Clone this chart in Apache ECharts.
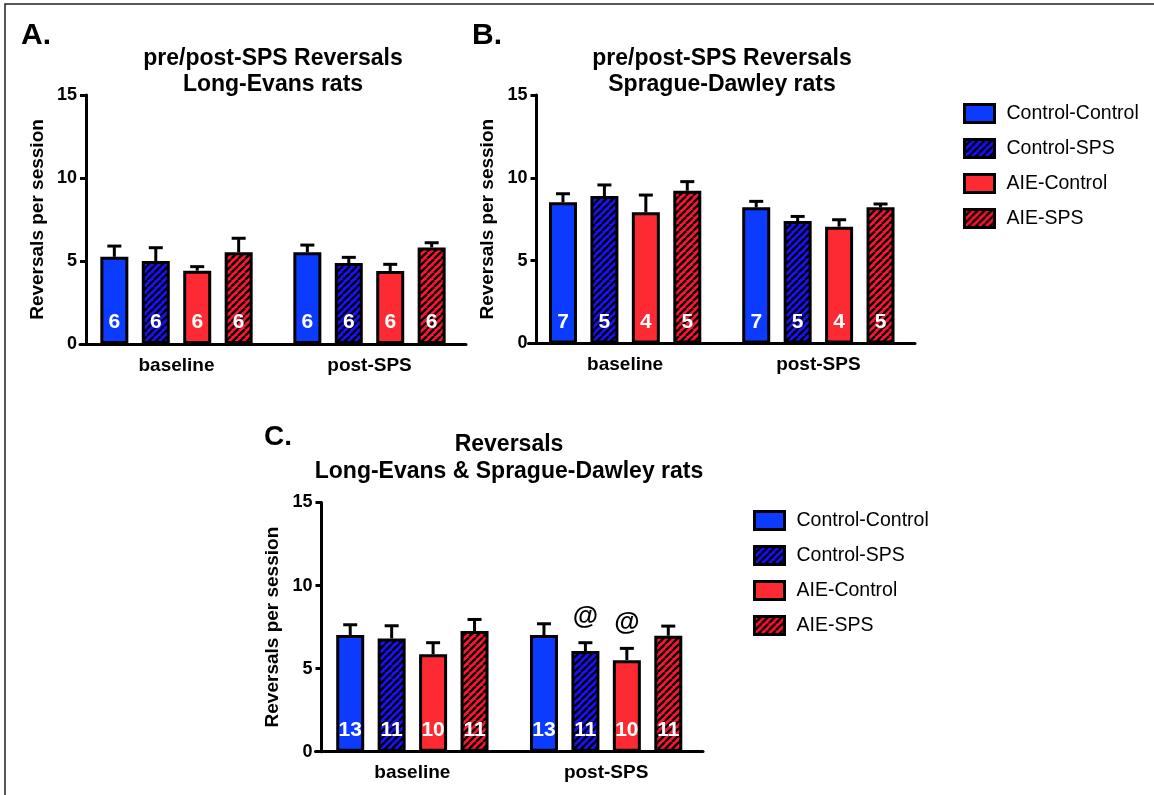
<!DOCTYPE html>
<html>
<head>
<meta charset="utf-8">
<title>Reversals per session</title>
<script src="https://cdn.jsdelivr.net/npm/echarts@6/dist/echarts.min.js"></script>
<style>
  html, body { margin: 0; padding: 0; background: #fff; }
  #chart { width: 1154px; height: 795px; }
</style>
</head>
<body>
<div id="chart"></div>
<script>
// ---- data ----
const CATEGORIES = ['baseline', 'post-SPS'];
const GROUPS = ['Control-Control', 'Control-SPS', 'AIE-Control', 'AIE-SPS'];
const Y_TICKS = [0, 5, 10, 15];

// A: Long-Evans rats — mean and SEM per group, [baseline, post-SPS]
const A_MEAN = [[5.25, 5.52], [5.0, 4.88], [4.42, 4.4], [5.52, 5.82]];
const A_SEM  = [[0.65, 0.44], [0.8, 0.34], [0.24, 0.4], [0.85, 0.28]];
const A_N    = [6, 6, 6, 6];

// B: Sprague-Dawley rats
const B_MEAN = [[8.52, 8.22], [8.9, 7.39], [7.92, 7.05], [9.22, 8.22]];
const B_SEM  = [[0.52, 0.36], [0.67, 0.28], [1.04, 0.42], [0.55, 0.2]];
const B_N    = [7, 5, 4, 5];

// C: both strains combined
const C_MEAN = [[7.02, 7.02], [6.82, 6.06], [5.86, 5.51], [7.26, 6.98]];
const C_SEM  = [[0.62, 0.68], [0.76, 0.5], [0.7, 0.71], [0.7, 0.58]];
const C_N    = [13, 11, 10, 11];
const C_MARK = [['', ''], ['', '@'], ['', '@'], ['', '']];

// ---- styling ----
const FONT = '"Liberation Sans", Arial, Helvetica, sans-serif';
const BAR_W = 28;          // px
const BAR_GAP = 0.48;      // fraction of bar width
const BAR_STEP = BAR_W * (1 + BAR_GAP);

function hatch(color) {
  const s = 7;
  const c = document.createElement('canvas');
  c.width = s; c.height = s;
  const ctx = c.getContext('2d');
  ctx.fillStyle = color;
  ctx.fillRect(0, 0, s, s);
  ctx.strokeStyle = '#000';
  ctx.lineWidth = 2.3;
  for (const o of [-s, 0, s]) {
    ctx.beginPath();
    ctx.moveTo(o, s);
    ctx.lineTo(o + s, 0);
    ctx.stroke();
  }
  return { image: c, repeat: 'repeat' };
}

const FILLS = ['#0b3bff', hatch('#1a12ff'), '#fe2a33', hatch('#ff1531')];

const PANELS = [
  { mean: A_MEAN, sem: A_SEM, n: A_N, mark: null,
    grid: { left: 80, top: 95, width: 386, height: 249 }, yOffset: -6 },
  { mean: B_MEAN, sem: B_SEM, n: B_N, mark: null,
    grid: { left: 528.5, top: 95, width: 386.5, height: 248.5 }, yOffset: -8 },
  { mean: C_MEAN, sem: C_SEM, n: C_N, mark: C_MARK,
    grid: { left: 315.5, top: 502.5, width: 387.5, height: 249.2 }, yOffset: -6 }
];

const grids = [], xAxes = [], yAxes = [], series = [];

PANELS.forEach((p, pi) => {
  grids.push(p.grid);
  xAxes.push({
    type: 'category', gridIndex: pi, data: CATEGORIES,
    axisLine: { lineStyle: { color: '#000', width: 3 } },
    axisTick: { alignWithLabel: true, length: 8, lineStyle: { color: '#000', width: 3 } },
    axisLabel: { color: '#000', fontFamily: FONT, fontSize: 19, fontWeight: 'bold', margin: 12 }
  });
  yAxes.push({
    type: 'value', gridIndex: pi, min: Y_TICKS[0], max: Y_TICKS[Y_TICKS.length - 1],
    interval: Y_TICKS[1] - Y_TICKS[0], offset: p.yOffset,
    splitLine: { show: false },
    axisLine: { show: true, lineStyle: { color: '#000', width: 3 } },
    axisTick: { show: true, length: 6, lineStyle: { color: '#000', width: 3 } },
    axisLabel: { color: '#000', fontFamily: FONT, fontSize: 18, fontWeight: 'bold', margin: 9 },
    name: 'Reversals per session', nameLocation: 'middle', nameGap: 39,
    nameTextStyle: { color: '#000', fontFamily: FONT, fontSize: 19, fontWeight: 'bold' }
  });

  GROUPS.forEach((g, gi) => {
    series.push({
      type: 'bar', name: g, xAxisIndex: pi, yAxisIndex: pi,
      data: p.mean[gi], barWidth: BAR_W, barGap: (BAR_GAP * 100) + '%',
      itemStyle: { color: FILLS[gi], borderColor: '#000', borderWidth: 3 },
      label: {
        show: true, position: 'insideBottom', distance: 11,
        formatter: String(p.n[gi]),
        color: '#fff', fontFamily: FONT, fontSize: 21, fontWeight: 'bold'
      },
      emphasis: { disabled: true },
      z: 2
    });
  });

  // error bars (mean + SEM) and significance marks
  const rows = [], marks = [];
  GROUPS.forEach((g, gi) => {
    CATEGORIES.forEach((c, ci) => {
      rows.push([ci, p.mean[gi][ci], p.sem[gi][ci], gi]);
      marks.push(p.mark ? p.mark[gi][ci] : '');
    });
  });
  series.push({
    type: 'custom', xAxisIndex: pi, yAxisIndex: pi, z: 3, silent: true,
    data: rows,
    encode: { x: 0, y: 1 },
    renderItem(params, api) {
      const ci = api.value(0), m = api.value(1), e = api.value(2), gi = api.value(3);
      const base = api.coord([ci, m]);
      const top = api.coord([ci, m + e]);
      const x = base[0] + (gi - 1.5) * BAR_STEP;
      const children = [
        { type: 'line', shape: { x1: x, y1: base[1], x2: x, y2: top[1] },
          style: { stroke: '#000', lineWidth: 3 } },
        { type: 'line', shape: { x1: x - 7, y1: top[1], x2: x + 7, y2: top[1] },
          style: { stroke: '#000', lineWidth: 3 } }
      ];
      const mk = marks[params.dataIndex];
      if (mk) {
        children.push({
          type: 'text',
          style: { text: mk, x: x, y: top[1] - 26, align: 'center', verticalAlign: 'middle',
                   fontFamily: FONT, fontSize: 26, fontWeight: 'bold', fill: '#000' }
        });
      }
      return { type: 'group', children };
    }
  });
});

function legendAt(left, top) {
  return {
    orient: 'vertical', left, top, data: GROUPS, padding: 0,
    icon: 'rect', itemWidth: 30, itemHeight: 18, itemGap: 14,
    selectedMode: false,
    itemStyle: { borderColor: '#000', borderWidth: 3 },
    textStyle: { color: '#000', fontFamily: FONT, fontSize: 19.5, padding: [0, 0, 0, 7] }
  };
}

function titleText(x, y, text, size, lh, align) {
  return {
    type: 'text', x, y, silent: true,
    style: { text, align: align || 'center', verticalAlign: 'middle', lineHeight: lh,
             fontFamily: FONT, fontSize: size, fontWeight: 'bold', fill: '#000' }
  };
}

const chart = echarts.init(document.getElementById('chart'), null, { renderer: 'canvas' });
chart.setOption({
  animation: false,
  backgroundColor: '#fff',
  grid: grids,
  xAxis: xAxes,
  yAxis: yAxes,
  series,
  legend: [legendAt(963, 103), legendAt(753, 510)],
  graphic: [
    { type: 'rect', silent: true, shape: { x: 5, y: 4, width: 1400, height: 1000 },
      style: { fill: 'none', stroke: '#222', lineWidth: 1.5 } },
    titleText(21, 36, 'A.', 30, 30, 'left'),
    titleText(472, 36, 'B.', 30, 30, 'left'),
    titleText(264, 437, 'C.', 28, 28, 'left'),
    titleText(273, 72, 'pre/post-SPS Reversals\nLong-Evans rats', 23, 26),
    titleText(722, 72, 'pre/post-SPS Reversals\nSprague-Dawley rats', 23, 26),
    titleText(509, 458, 'Reversals\nLong-Evans & Sprague-Dawley rats', 23, 27.5)
  ]
});
</script>
</body>
</html>
